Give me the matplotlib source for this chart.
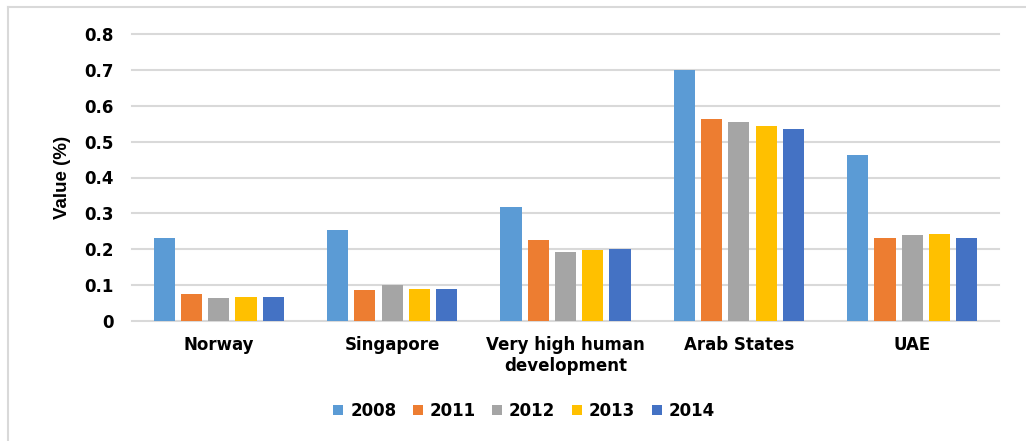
import matplotlib.pyplot as plt
import numpy as np
from matplotlib.lines import Line2D

categories = ["Norway", "Singapore", "Very high human\ndevelopment", "Arab States", "UAE"]
years = ["2008", "2011", "2012", "2013", "2014"]
v2008 = [0.232, 0.253, 0.318, 0.699, 0.462]
v2011 = [0.074, 0.086, 0.225, 0.563, 0.232]
v2012 = [0.063, 0.099, 0.191, 0.554, 0.240]
v2013 = [0.067, 0.088, 0.198, 0.544, 0.242]
v2014 = [0.067, 0.088, 0.200, 0.536, 0.232]
series = [v2008, v2011, v2012, v2013, v2014]
colors = ["#5B9BD5", "#ED7D31", "#A5A5A5", "#FFC000", "#4472C4"]

plt.rcParams["font.family"] = "DejaVu Sans"
fig = plt.figure(figsize=(10.26, 4.41), dpi=100)
ax = fig.add_axes([132 / 1026, 1 - 321 / 441, 867 / 1026, 287 / 441])

x = np.arange(len(categories))
w = 0.122
pitch = 0.157
for i, (vals, c, yr) in enumerate(zip(series, colors, years)):
    ax.bar(x + (i - 2) * pitch, vals, width=w, color=c, label=yr, zorder=3)

ax.set_xlim(-0.5, len(categories) - 0.5)
ax.set_ylim(0, 0.8)
ax.set_yticks(np.arange(0, 0.81, 0.1))
ax.set_yticklabels(["0"] + ["%.1f" % t for t in np.arange(0.1, 0.81, 0.1)])
# gridlines drawn by hand so the top one is not clipped
for t in np.arange(0.1, 0.81, 0.1):
    ax.axhline(t, color="#D9D9D9", linewidth=1.5, zorder=0, clip_on=False)
for s in ["top", "right", "left"]:
    ax.spines[s].set_visible(False)
ax.spines["bottom"].set_color("#D9D9D9")
ax.spines["bottom"].set_linewidth(1.5)
ax.tick_params(axis="y", length=0, labelsize=12, pad=13)
ax.set_xticks(x)
ax.set_xticklabels(categories, fontweight="bold", fontsize=12, linespacing=1.2, va="top")
ax.tick_params(axis="x", length=0, pad=11)
for lbl in ax.get_yticklabels():
    lbl.set_fontweight("bold")
ax.set_ylabel("Value (%)", fontsize=13.5, fontweight="bold", family="Liberation Sans", labelpad=10)

fig.legend(loc="center", bbox_to_anchor=(524 / 1026, 1 - 411 / 441), ncol=5, frameon=False,
           prop={"weight": "bold", "size": 12}, handlelength=0.6, handleheight=0.5,
           columnspacing=1.0, handletextpad=0.4)

# partial frame around the chart (top and left edges visible in the source)
fig.lines.append(Line2D([8 / 1026, 8 / 1026], [0, 1 - 7 / 441], transform=fig.transFigure,
                        color="#D9D9D9", linewidth=1.5))
fig.lines.append(Line2D([8 / 1026, 1], [1 - 7 / 441, 1 - 7 / 441], transform=fig.transFigure,
                        color="#D9D9D9", linewidth=1.5))

fig.savefig("out.png", dpi=100)
